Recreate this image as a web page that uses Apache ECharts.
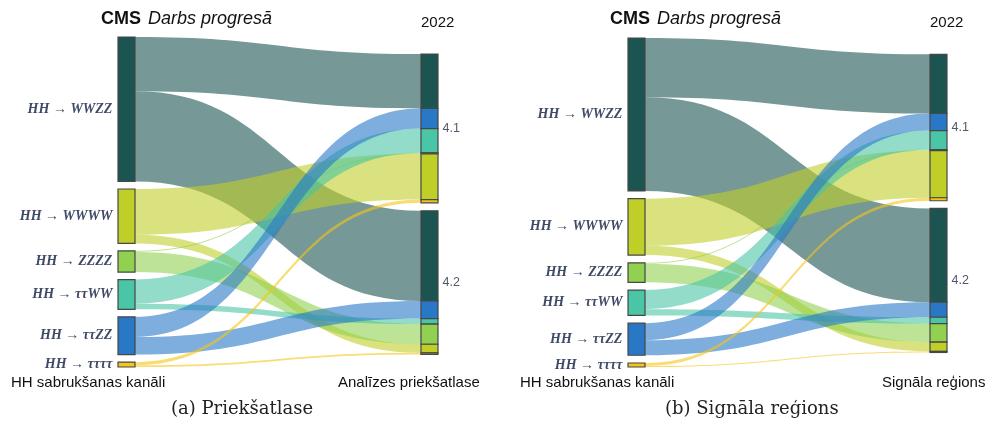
<!DOCTYPE html>
<html>
<head>
<meta charset="utf-8">
<script src="https://cdn.jsdelivr.net/npm/echarts@6/dist/echarts.min.js"></script>
<style>
html,body{margin:0;padding:0;background:#fff;}
#chart{width:988px;height:423px;}
</style>
</head>
<body>
<div id="chart"></div>
<script>
// ---- data ----
const channels = ['HH → WWZZ', 'HH → WWWW', 'HH → ZZZZ', 'HH → ττWW', 'HH → ττZZ', 'HH → ττττ'];
const channelColors = ['#1b5450', '#bfcf28', '#91d050', '#4ac5a5', '#2878c6', '#f5c518'];
const regions = ['4.1', '4.2'];
// order in which channels are stacked inside each region bar (indices into channels)
const stackOrder = [0, 4, 3, 2, 1, 5];
// (a) Priekšatlase: flow from each channel into region 4.1 / 4.2
const preselTo41 = [54, 45.5, 1, 24, 20, 3.2];
const preselTo42 = [89.5, 8.5, 20, 5.5, 17.5, 1.6];
// (b) Signāla reģions
const signalTo41 = [59, 47, 1, 19, 17, 3];
const signalTo42 = [93.5, 9.3, 18.5, 6.3, 15, 1];

const titleLeft = 'Darbs progresā';
const yearLabel = '2022';
const leftAxisLabel = 'HH sabrukšanas kanāli';
const rightAxisLabels = ['Analīzes priekšatlase', 'Signāla reģions'];
const captions = ['(a) Priekšatlase', '(b) Signāla reģions'];

// ---- build ----
const sum = a => a.reduce((s, v) => s + v, 0);

function spacer(id, value, depth) {
  return {
    name: '__gap_' + id, value: value, depth: depth,
    itemStyle: { color: 'rgba(0,0,0,0)', borderWidth: 0 },
    label: { show: false }
  };
}

function buildSeries(to41, to42, layout) {
  const nodes = [], links = [];
  const leftSum = sum(to41) + sum(to42) + (channels.length - 1) * layout.gapL;
  const ky = layout.height / leftSum;
  channels.forEach((ch, i) => {
    nodes.push({
      name: ch, depth: 0,
      itemStyle: { color: channelColors[i], borderColor: '#474747', borderWidth: 1.2 },
      label: {
        show: true, position: 'left', distance: 5,
        fontFamily: 'Liberation Serif', fontStyle: 'italic', fontWeight: 'bold',
        fontSize: 14, color: '#3f4a66'
      }
    });
    if (i < channels.length - 1) nodes.push(spacer('L' + i, layout.gapL, 0));
  });
  nodes.push(spacer('Rtop', layout.topR, 1));
  const perRegion = [to41, to42];
  regions.forEach((r, ri) => {
    if (ri > 0) nodes.push(spacer('R' + ri, layout.gapR, 1));
    const vals = perRegion[ri];
    const total = stackOrder.reduce((s, k) => s + vals[k], 0);
    const mid = total / 2;
    let cum = 0;
    stackOrder.forEach(k => {
      const v = vals[k];
      const holds = cum <= mid && mid < cum + v;
      nodes.push({
        name: r + ' · ' + channels[k], depth: 1,
        itemStyle: { color: channelColors[k], borderColor: '#474747', borderWidth: 1.2 },
        label: holds ? {
          show: true, position: 'right', distance: 4, formatter: r,
          offset: [0, (mid - (cum + v / 2)) * ky],
          fontFamily: 'Liberation Sans', fontSize: 12.5, color: '#505869'
        } : { show: false }
      });
      cum += v;
    });
  });
  channels.forEach((ch, i) => {
    links.push({ source: ch, target: regions[0] + ' · ' + ch, value: to41[i] });
    links.push({ source: ch, target: regions[1] + ' · ' + ch, value: to42[i] });
  });
  return {
    type: 'sankey',
    left: layout.left, top: layout.top, width: layout.width, height: layout.height,
    nodeWidth: 17, nodeGap: 0, layoutIterations: 0, draggable: false,
    nodeAlign: 'left',
    emphasis: { disabled: true },
    label: { show: false },
    lineStyle: { color: 'source', opacity: 0.6, curveness: 0.5 },
    data: nodes, links: links
  };
}

const series = [
  buildSeries(preselTo41, preselTo42, { left: 118, top: 37, width: 320, height: 330, gapL: 7.5, topR: 17, gapR: 8 }),
  buildSeries(signalTo41, signalTo42, { left: 628, top: 38, width: 319, height: 329, gapL: 7.7, topR: 16.3, gapR: 7.7 })
];

const sans = 'Liberation Sans';
function panelTexts(dx, rightLabel, rightLabelX, caption, captionX) {
  return [
    { type: 'text', left: 101 + dx, top: 10, style: {
      text: '{b|CMS}{s| }{i|' + titleLeft + '}',
      rich: {
        b: { fontFamily: sans, fontWeight: 'bold', fontSize: 18, fill: '#111' },
        s: { fontFamily: sans, fontSize: 18, width: 7 },
        i: { fontFamily: sans, fontStyle: 'italic', fontSize: 18, fill: '#111' }
      } } },
    { type: 'text', left: 421 + dx, top: 15, style: { text: yearLabel, fontFamily: sans, fontSize: 15, fill: '#111' } },
    { type: 'text', left: 11 + dx, top: 375, style: { text: leftAxisLabel, fontFamily: sans, fontSize: 15, fill: '#111' } },
    { type: 'text', left: rightLabelX, top: 375, style: { text: rightLabel, fontFamily: sans, fontSize: 15, fill: '#111' } },
    { type: 'text', left: captionX, top: 400, style: { text: caption, fontFamily: 'DejaVu Serif', fontSize: 18, fill: '#222' } }
  ];
}

const chart = echarts.init(document.getElementById('chart'), null, { renderer: 'canvas' });
chart.setOption({
  backgroundColor: '#fff',
  animation: false,
  series: series,
  graphic: [].concat(
    panelTexts(0, rightAxisLabels[0], 338, captions[0], 171),
    panelTexts(509, rightAxisLabels[1], 882, captions[1], 665)
  )
});
</script>
</body>
</html>
